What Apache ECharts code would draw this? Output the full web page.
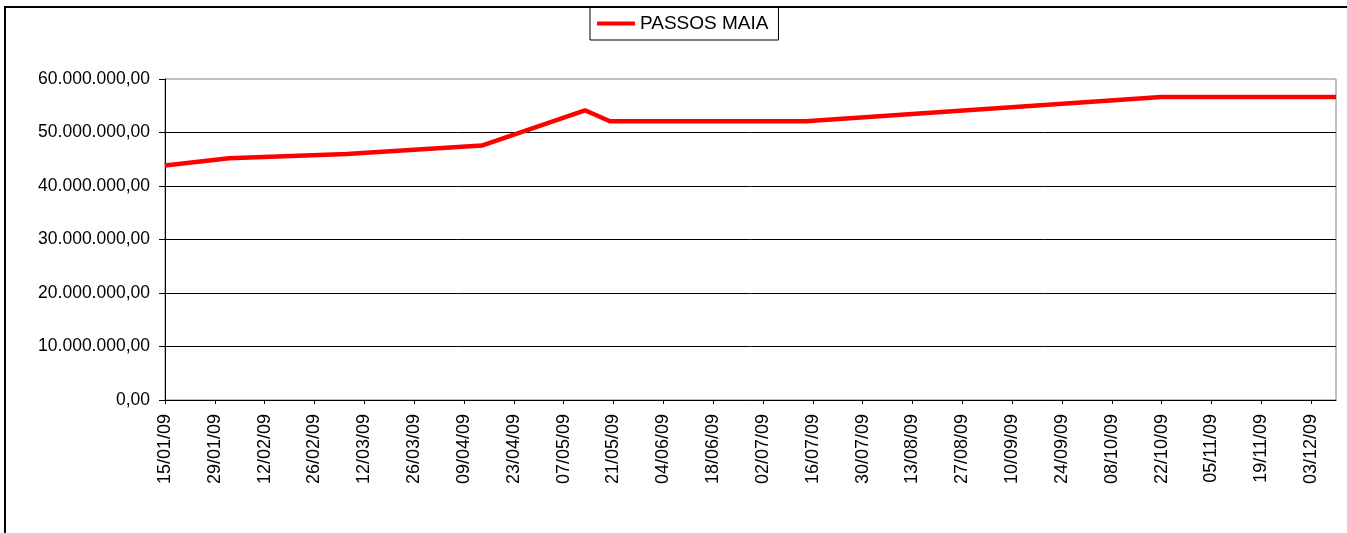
<!DOCTYPE html>
<html>
<head>
<meta charset="utf-8">
<script src="https://cdn.jsdelivr.net/npm/echarts@6/dist/echarts.min.js"></script>
<style>
    html, body { margin: 0; padding: 0; background: #fff; }
    #chart { width: 1347px; height: 533px; }
</style>
</head>
<body>
<div id="chart"></div>
<script>
var seriesName = 'PASSOS MAIA';
// datas dos pontos (dd/mm/yy) e valores
var pointDates = ['15/01/09', '02/02/09', '07/03/09', '14/04/09', '13/05/09', '20/05/09', '14/07/09', '22/10/09', '10/12/09'];
var pointValues = [43850000, 45200000, 46000000, 47550000, 54150000, 52100000, 52100000, 56650000, 56650000];
var tickLabels = ['15/01/09', '29/01/09', '12/02/09', '26/02/09', '12/03/09', '26/03/09', '09/04/09', '23/04/09',
    '07/05/09', '21/05/09', '04/06/09', '18/06/09', '02/07/09', '16/07/09', '30/07/09', '13/08/09', '27/08/09',
    '10/09/09', '24/09/09', '08/10/09', '22/10/09', '05/11/09', '19/11/09', '03/12/09'];
var yTicks = [0, 10000000, 20000000, 30000000, 40000000, 50000000, 60000000];

function toDate(s) {
    var p = s.split('/');
    return Date.UTC(2000 + parseInt(p[2], 10), parseInt(p[1], 10) - 1, parseInt(p[0], 10));
}
var startMs = toDate(pointDates[0]);
function dayOffset(s) {
    return Math.round((toDate(s) - startMs) / 86400000);
}
var tickMap = {};
tickLabels.forEach(function (t) { tickMap[dayOffset(t)] = t; });

var lineData = pointDates.map(function (d, i) { return [dayOffset(d), pointValues[i]]; });

function fmtMoney(v) {
    var s = Math.round(v).toString().replace(/\B(?=(\d{3})+(?!\d))/g, '.');
    return s + ',00';
}

var myChart = echarts.init(document.getElementById('chart'));
var option = {
    animation: false,
    textStyle: { fontFamily: 'Liberation Sans, Arial, sans-serif' },
    graphic: [{
        type: 'rect',
        shape: { x: 5, y: 7, width: 1400, height: 600 },
        style: { fill: 'none', stroke: '#000', lineWidth: 2 },
        z: -1
    }],
    legend: {
        left: 590,
        top: 7,
        padding: [7, 10, 7, 7],
        borderColor: '#000',
        borderWidth: 1,
        itemWidth: 38,
        itemHeight: 4,
        itemGap: 5,
        icon: 'rect',
        textStyle: { fontSize: 19, color: '#000', fontFamily: 'Liberation Sans, Arial, sans-serif' },
        data: [seriesName]
    },
    grid: {
        left: 165,
        top: 79,
        right: 11,
        bottom: 133,
        show: true,
        borderColor: '#808080',
        borderWidth: 1,
        containLabel: false
    },
    xAxis: {
        type: 'value',
        min: 0,
        max: dayOffset(pointDates[pointDates.length - 1]),
        interval: 14,
        axisLine: { show: true, lineStyle: { color: '#000', width: 1 } },
        axisTick: { show: true, length: 4, lineStyle: { color: '#000' } },
        splitLine: { show: false },
        axisLabel: {
            rotate: 90,
            margin: 14,
            fontSize: 18,
            color: '#000',
            showMaxLabel: false,
            formatter: function (v) { return tickMap[v] || ''; }
        }
    },
    yAxis: {
        type: 'value',
        min: yTicks[0],
        max: yTicks[yTicks.length - 1],
        interval: 10000000,
        axisLine: { show: true, lineStyle: { color: '#000', width: 1 } },
        axisTick: { show: true, length: 6, lineStyle: { color: '#000' } },
        splitLine: { show: true, showMaxLine: false, lineStyle: { color: '#000', width: 1 } },
        axisLabel: {
            margin: 15,
            fontSize: 17.5,
            color: '#000',
            formatter: fmtMoney
        }
    },
    series: [{
        name: seriesName,
        type: 'line',
        data: lineData,
        showSymbol: false,
        symbol: 'none',
        color: '#ff0000',
        lineStyle: { color: '#ff0000', width: 4.5 }
    }]
};
myChart.setOption(option);
window.addEventListener('resize', function () {
    myChart.resize();
});
</script>
</body>
</html>
